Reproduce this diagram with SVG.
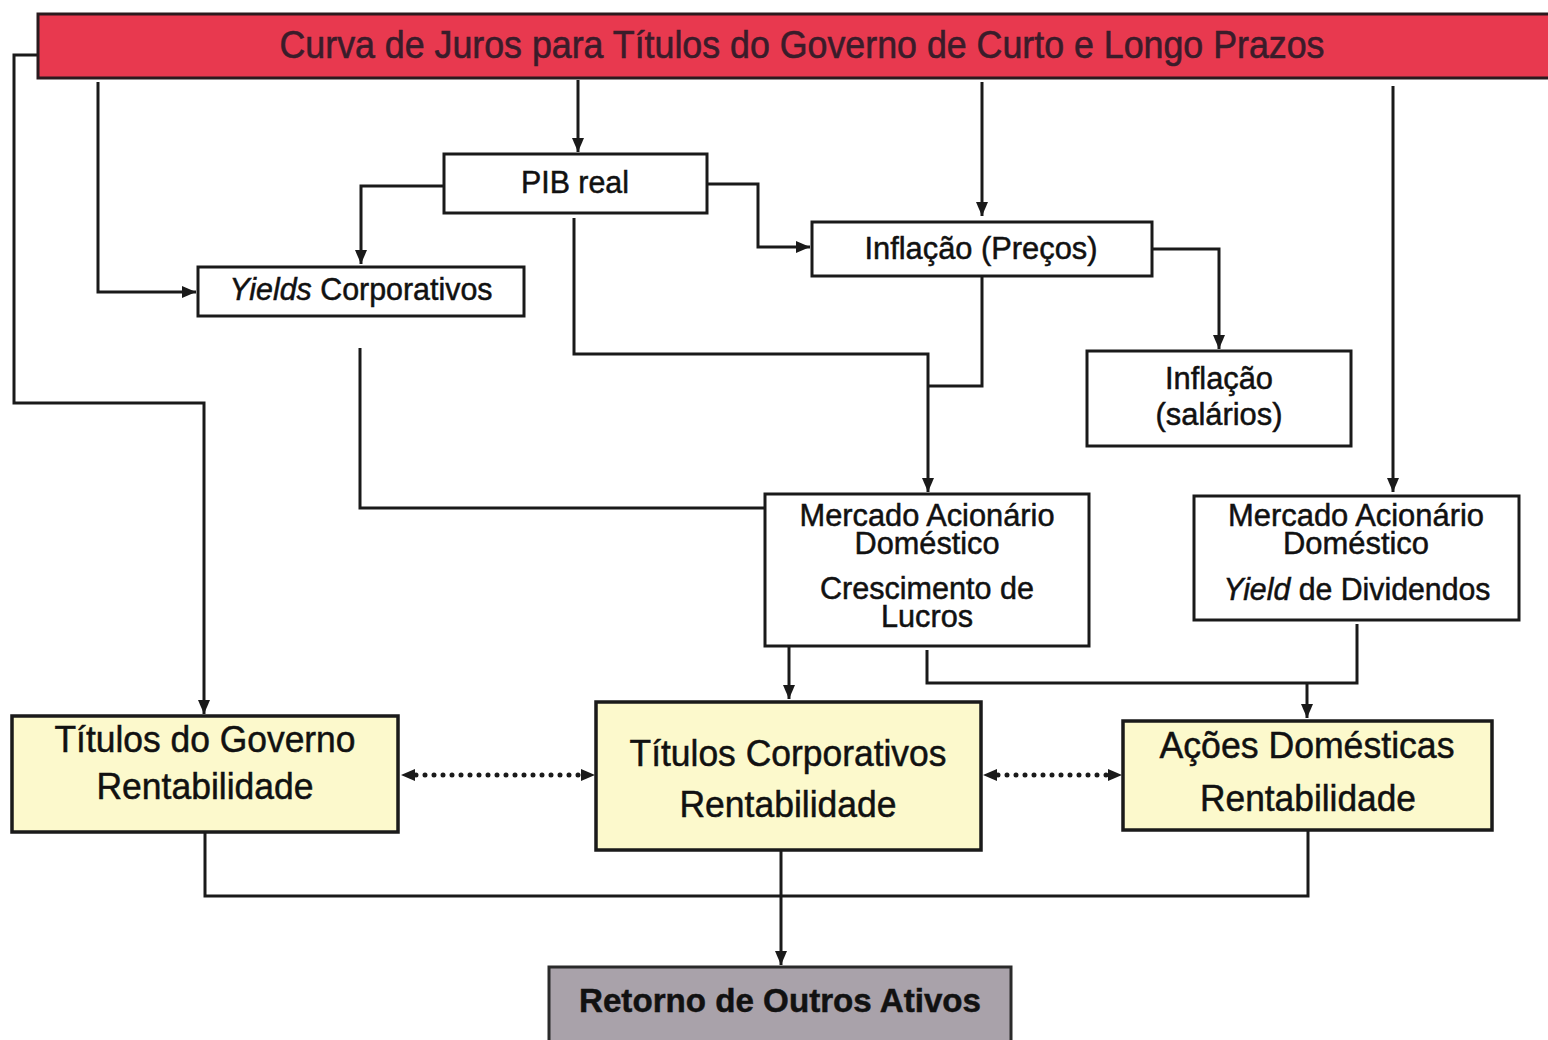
<svg xmlns="http://www.w3.org/2000/svg" width="1548" height="1040" viewBox="0 0 1548 1040">
<style>
.box{fill:#ffffff;stroke:#1a1a1a;stroke-width:3}
.yel{fill:#fcf9cc;stroke:#1a1a1a;stroke-width:3.5}
.gry{fill:#a9a2aa;stroke:#2a2a2a;stroke-width:3}
.bar{fill:#e8394f;stroke:#2a1a1e;stroke-width:3}
.t{font-family:"Liberation Sans",Arial,sans-serif;fill:#111;text-anchor:middle;stroke:#111;stroke-width:0.5}
.m{font-size:31px}
.b{font-size:37px}
.ln{fill:none;stroke:#1a1a1a;stroke-width:3}
.dot{fill:none;stroke:#1a1a1a;stroke-width:5;stroke-linecap:round;stroke-dasharray:0 9}
</style>
<defs>
<marker id="arr" viewBox="0 0 14 12" refX="14" refY="6" markerWidth="14" markerHeight="12" markerUnits="userSpaceOnUse" orient="auto-start-reverse">
<path d="M0,0 L14,6 L0,12 z" fill="#1a1a1a"/>
</marker>
</defs>
<rect width="1548" height="1040" fill="#ffffff"/>

<g id="connectors">
<path class="ln" d="M38,55 H14 V403 H204 V714" marker-end="url(#arr)"/>
<path class="ln" d="M98,82 V292 H196" marker-end="url(#arr)"/>
<path class="ln" d="M578,80 V152" marker-end="url(#arr)"/>
<path class="ln" d="M982,82 V216" marker-end="url(#arr)"/>
<path class="ln" d="M1393,86 V492" marker-end="url(#arr)"/>
<path class="ln" d="M444,186 H361 V264" marker-end="url(#arr)"/>
<path class="ln" d="M707,184 H758 V247 H810" marker-end="url(#arr)"/>
<path class="ln" d="M574,218 V354 H928 V492" marker-end="url(#arr)"/>
<path class="ln" d="M982,276 V386 H928"/>
<path class="ln" d="M1152,249 H1219 V349" marker-end="url(#arr)"/>
<path class="ln" d="M360,348 V508 H765"/>
<path class="ln" d="M789,646 V699" marker-end="url(#arr)"/>
<path class="ln" d="M927,650 V683 H1357 V624"/>
<path class="ln" d="M1307,683 V718" marker-end="url(#arr)"/>
<path class="dot" d="M416,775 H580"/>
<path class="ln" d="M401,775 H595" stroke-opacity="0" marker-start="url(#arr)" marker-end="url(#arr)"/>
<path class="dot" d="M998,775 H1108"/>
<path class="ln" d="M983,775 H1122" stroke-opacity="0" marker-start="url(#arr)" marker-end="url(#arr)"/>
<path class="ln" d="M205,832 V896 H1308 V830"/>
<path class="ln" d="M781,850 V965" marker-end="url(#arr)"/>
</g>

<g id="curva">
<rect class="bar" x="38" y="14" width="1530" height="64"/>
<text class="t" x="802" y="58" font-size="38" style="fill:#3a1c2a;stroke:#3a1c2a;stroke-width:0.6" textLength="1045" lengthAdjust="spacingAndGlyphs">Curva de Juros para Títulos do Governo de Curto e Longo Prazos</text>
</g>

<g id="pib">
<rect class="box" x="444" y="154" width="263" height="59"/>
<text class="t m" x="575" y="193" textLength="108" lengthAdjust="spacingAndGlyphs">PIB real</text>
</g>

<g id="yields">
<rect class="box" x="198" y="267" width="326" height="49"/>
<text class="t m" x="361" y="300" textLength="263" lengthAdjust="spacingAndGlyphs"><tspan font-style="italic">Yields</tspan> Corporativos</text>
</g>

<g id="inflacao-precos">
<rect class="box" x="812" y="222" width="340" height="54"/>
<text class="t m" x="981" y="259" textLength="233" lengthAdjust="spacingAndGlyphs">Inflação (Preços)</text>
</g>

<g id="inflacao-salarios">
<rect class="box" x="1087" y="351" width="264" height="95"/>
<text class="t m" x="1219" y="389" textLength="108" lengthAdjust="spacingAndGlyphs">Inflação</text>
<text class="t m" x="1219" y="425" textLength="127" lengthAdjust="spacingAndGlyphs">(salários)</text>
</g>

<g id="mercado-lucros">
<rect class="box" x="765" y="494" width="324" height="152"/>
<text class="t m" x="927" y="526" textLength="255" lengthAdjust="spacingAndGlyphs">Mercado Acionário</text>
<text class="t m" x="927" y="554" textLength="145" lengthAdjust="spacingAndGlyphs">Doméstico</text>
<text class="t m" x="927" y="599" textLength="214" lengthAdjust="spacingAndGlyphs">Crescimento de</text>
<text class="t m" x="927" y="627" textLength="92" lengthAdjust="spacingAndGlyphs">Lucros</text>
</g>

<g id="mercado-dividendos">
<rect class="box" x="1194" y="496" width="325" height="124"/>
<text class="t m" x="1356" y="526" textLength="256" lengthAdjust="spacingAndGlyphs">Mercado Acionário</text>
<text class="t m" x="1356" y="554" textLength="146" lengthAdjust="spacingAndGlyphs">Doméstico</text>
<text class="t m" x="1357" y="600" textLength="267" lengthAdjust="spacingAndGlyphs"><tspan font-style="italic">Yield</tspan> de Dividendos</text>
</g>

<g id="titulos-governo">
<rect class="yel" x="12" y="716" width="386" height="116"/>
<text class="t b" x="205" y="752" textLength="301" lengthAdjust="spacingAndGlyphs">Títulos do Governo</text>
<text class="t b" x="205" y="799" textLength="217" lengthAdjust="spacingAndGlyphs">Rentabilidade</text>
</g>

<g id="titulos-corporativos">
<rect class="yel" x="596" y="702" width="385" height="148"/>
<text class="t b" x="788" y="766" textLength="317" lengthAdjust="spacingAndGlyphs">Títulos Corporativos</text>
<text class="t b" x="788" y="817" textLength="217" lengthAdjust="spacingAndGlyphs">Rentabilidade</text>
</g>

<g id="acoes-domesticas">
<rect class="yel" x="1123" y="721" width="369" height="109"/>
<text class="t b" x="1307" y="758" textLength="295" lengthAdjust="spacingAndGlyphs">Ações Domésticas</text>
<text class="t b" x="1308" y="811" textLength="216" lengthAdjust="spacingAndGlyphs">Rentabilidade</text>
</g>

<g id="retorno">
<rect class="gry" x="549" y="967" width="462" height="90"/>
<text class="t" x="780" y="1012" font-size="34" font-weight="bold" textLength="402" lengthAdjust="spacingAndGlyphs">Retorno de Outros Ativos</text>
</g>
</svg>
